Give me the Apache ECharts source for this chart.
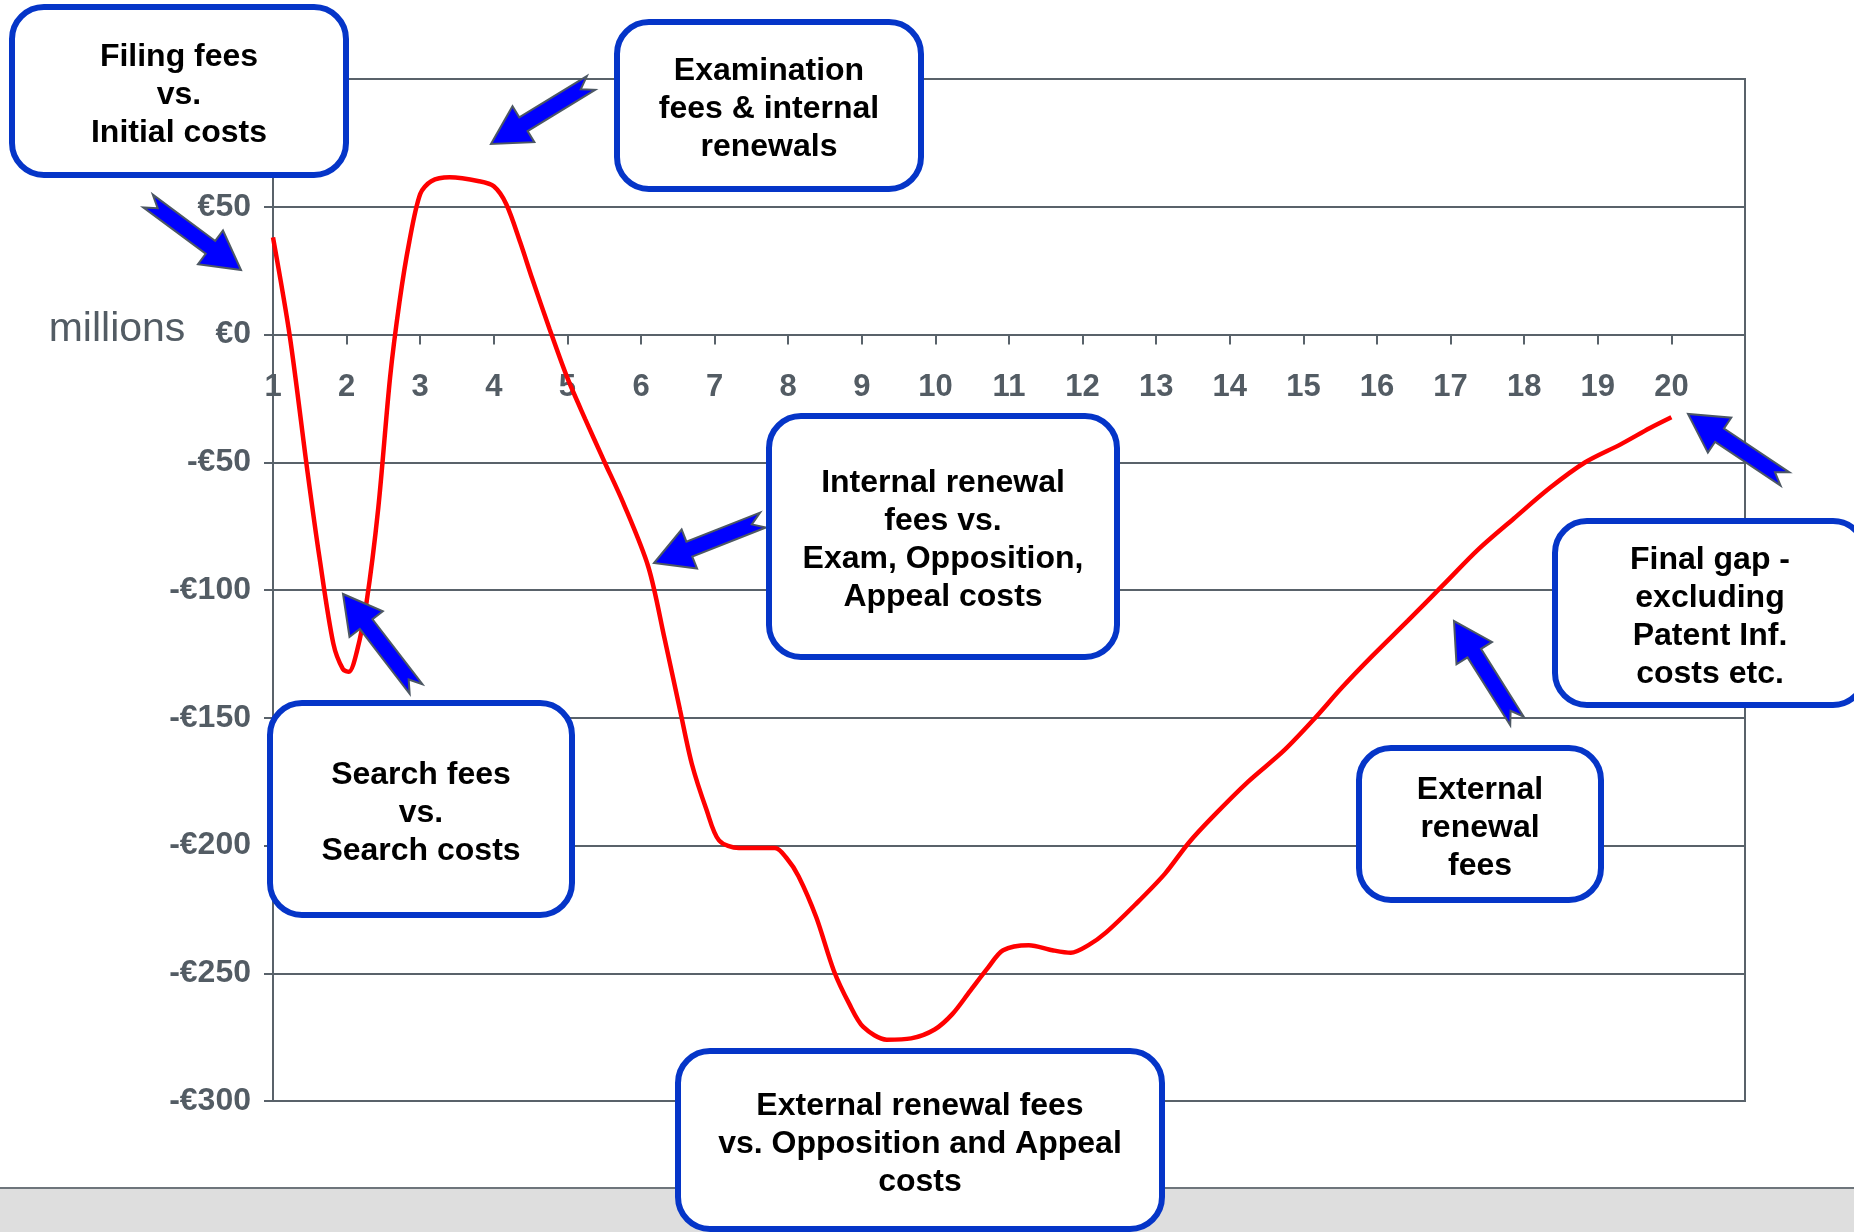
<!DOCTYPE html>
<html>
<head>
<meta charset="utf-8">
<script src="https://cdn.jsdelivr.net/npm/echarts@6/dist/echarts.min.js"></script>
<style>
html,body{margin:0;padding:0;background:#fff;}
#chart{width:1854px;height:1232px;}
</style>
</head>
<body>
<div id="chart"></div>
<script>
// ---- data ----
const years = [1, 1.23, 1.47, 1.63, 1.82, 1.95, 2.03, 2.14, 2.27, 2.43, 2.59, 2.72, 2.85, 3.0, 3.15, 3.4, 3.8, 4.0, 4.17, 4.36, 4.52, 4.76, 5.0, 5.24, 5.49, 5.76, 6.1, 6.32, 6.53, 6.69, 6.89, 7.06, 7.33, 7.82, 7.98, 8.14, 8.38, 8.62, 8.83, 9.02, 9.34, 9.67, 9.99, 10.23, 10.47, 10.71, 10.92, 11.27, 11.59, 11.84, 12.08, 12.32, 12.72, 13.12, 13.44, 13.76, 14.25, 14.73, 15.13, 15.53, 15.93, 16.42, 16.9, 17.38, 17.86, 18.35, 18.83, 19.31, 19.71, 20.0];
const gap = [38, -1, -54, -87, -121, -131, -132, -124, -105, -68, -17, 13, 36, 55, 60, 61.5, 60, 58, 51, 36, 22, 2, -17, -33, -49, -66, -91, -119, -147, -168, -186, -198, -201, -201, -205, -212, -228, -249, -262, -271, -276, -275.5, -272, -266, -257, -248, -241, -239, -241, -242, -239, -234, -223, -211, -199, -189, -175, -163, -151, -138, -126, -112, -98, -84, -72, -60, -50, -43, -36.6, -32.4];
const xTickLabels = ['1','2','3','4','5','6','7','8','9','10','11','12','13','14','15','16','17','18','19','20'];
const yTickValues = [-300, -250, -200, -150, -100, -50, 0, 50];
const unitLabel = 'millions';

const boxTexts = [
  'Filing fees\nvs.\nInitial costs',
  'Examination\nfees & internal\nrenewals',
  'Search fees\nvs.\nSearch costs',
  'Internal renewal\nfees vs.\nExam, Opposition,\nAppeal costs',
  'External renewal fees\nvs. Opposition and Appeal\ncosts',
  'External\nrenewal\nfees',
  'Final gap -\nexcluding\nPatent Inf.\ncosts etc.'
];

// ---- annotation layout (pixels) ----
const boxLayout = [
  {x: 12, y: 7, w: 334, h: 168},
  {x: 617, y: 22, w: 304, h: 167},
  {x: 270, y: 703, w: 302, h: 212},
  {x: 769, y: 416, w: 348, h: 241},
  {x: 678, y: 1051, w: 484, h: 178},
  {x: 1359, y: 748, w: 242, h: 152},
  {x: 1555, y: 521, w: 310, h: 184}
];
const arrowLayout = [
  {tail: [148, 201], tip: [241, 270]},
  {tail: [591, 83], tip: [491, 144]},
  {tail: [416, 689], tip: [343, 594]},
  {tail: [763, 520], tip: [654, 563]},
  {tail: [1517, 721], tip: [1454, 621]},
  {tail: [1785, 479], tip: [1688, 414]}
];

function arrowPoints(tail, tip) {
  const dx = tip[0] - tail[0], dy = tip[1] - tail[1];
  const L = Math.sqrt(dx * dx + dy * dy);
  const ux = dx / L, uy = dy / L;
  const nx = -uy, ny = ux;
  const h = 38, hw = 21, sw = 8, nd = 12;
  const bx = tip[0] - ux * h, by = tip[1] - uy * h;
  return [
    [tail[0] + nx * sw, tail[1] + ny * sw],
    [bx + nx * sw, by + ny * sw],
    [bx + nx * hw, by + ny * hw],
    [tip[0], tip[1]],
    [bx - nx * hw, by - ny * hw],
    [bx - nx * sw, by - ny * sw],
    [tail[0] - nx * sw, tail[1] - ny * sw],
    [tail[0] + ux * nd, tail[1] + uy * nd]
  ];
}

const axisColor = '#59626a';
const labelColor = '#535c64';
const fontFam = '"Liberation Sans", Arial, sans-serif';

const gridTop = 79, gridBottom = 131, chartH = 1232;
const yMin = -300, yMax = 100;
const plotH = chartH - gridTop - gridBottom;
// move the x axis (line, ticks, labels) up to the zero line
const xAxisOffset = -plotH * (0 - yMin) / (yMax - yMin);

const graphics = [];
graphics.push({
  type: 'rect', z: 1,
  shape: {x: 0, y: 1188, width: 1854, height: 44},
  style: {fill: '#dedede'}
});
graphics.push({
  type: 'line', z: 1,
  shape: {x1: 0, y1: 1188, x2: 1854, y2: 1188},
  style: {stroke: '#6e757b', lineWidth: 2}
});
graphics.push({
  type: 'text', z: 10,
  style: {
    text: unitLabel, x: 117, y: 330, align: 'center', verticalAlign: 'middle',
    font: 'normal 41px ' + fontFam, fill: labelColor
  }
});
arrowLayout.forEach(a => {
  graphics.push({
    type: 'polygon', z: 20,
    shape: {points: arrowPoints(a.tail, a.tip)},
    style: {fill: '#0000ff', stroke: '#4d5863', lineWidth: 2}
  });
});
boxLayout.forEach((b, i) => {
  graphics.push({
    type: 'rect', z: 30,
    shape: {x: b.x, y: b.y, width: b.w, height: b.h, r: 32},
    style: {fill: '#ffffff', stroke: '#0535c8', lineWidth: 6}
  });
  graphics.push({
    type: 'text', z: 31,
    style: {
      text: boxTexts[i], x: b.x + b.w / 2, y: b.y + b.h / 2 + 4,
      align: 'center', verticalAlign: 'middle',
      font: 'bold 32px ' + fontFam, lineHeight: 38, fill: '#000000'
    }
  });
});

const chart = echarts.init(document.getElementById('chart'));
chart.setOption({
  animation: false,
  backgroundColor: '#ffffff',
  grid: {
    left: 273, right: 109, top: gridTop, bottom: gridBottom,
    show: true, borderColor: axisColor, borderWidth: 2, containLabel: false
  },
  xAxis: {
    type: 'value', min: 1, max: 21, interval: 1,
    offset: xAxisOffset,
    axisLine: {show: true, onZero: false, lineStyle: {color: axisColor, width: 2}},
    axisTick: {show: true, inside: false, length: 10, lineStyle: {color: axisColor, width: 2}},
    splitLine: {show: false},
    axisLabel: {
      margin: 37, color: labelColor, fontSize: 31, fontWeight: 'bold', fontFamily: fontFam,
      formatter: v => (v >= 1 && v <= 20 ? xTickLabels[v - 1] : '')
    }
  },
  yAxis: {
    type: 'value', min: yMin, max: yMax, interval: 50,
    axisLine: {show: true, onZero: false, lineStyle: {color: axisColor, width: 2}},
    axisTick: {show: true, inside: false, length: 9, lineStyle: {color: axisColor, width: 2}},
    splitLine: {show: true, lineStyle: {color: axisColor, width: 2}},
    axisLabel: {
      margin: 22, color: labelColor, fontSize: 32, fontWeight: 'bold', fontFamily: fontFam,
      formatter: v => yTickValues.indexOf(v) < 0 ? '' : (v < 0 ? '-€' + Math.abs(v) : '€' + v)
    }
  },
  series: [{
    type: 'line',
    data: years.map((y, i) => [y, gap[i]]),
    smooth: 0.3,
    showSymbol: false,
    lineStyle: {color: '#ff0000', width: 4.5},
    z: 5
  }],
  graphic: graphics
});
</script>
</body>
</html>
